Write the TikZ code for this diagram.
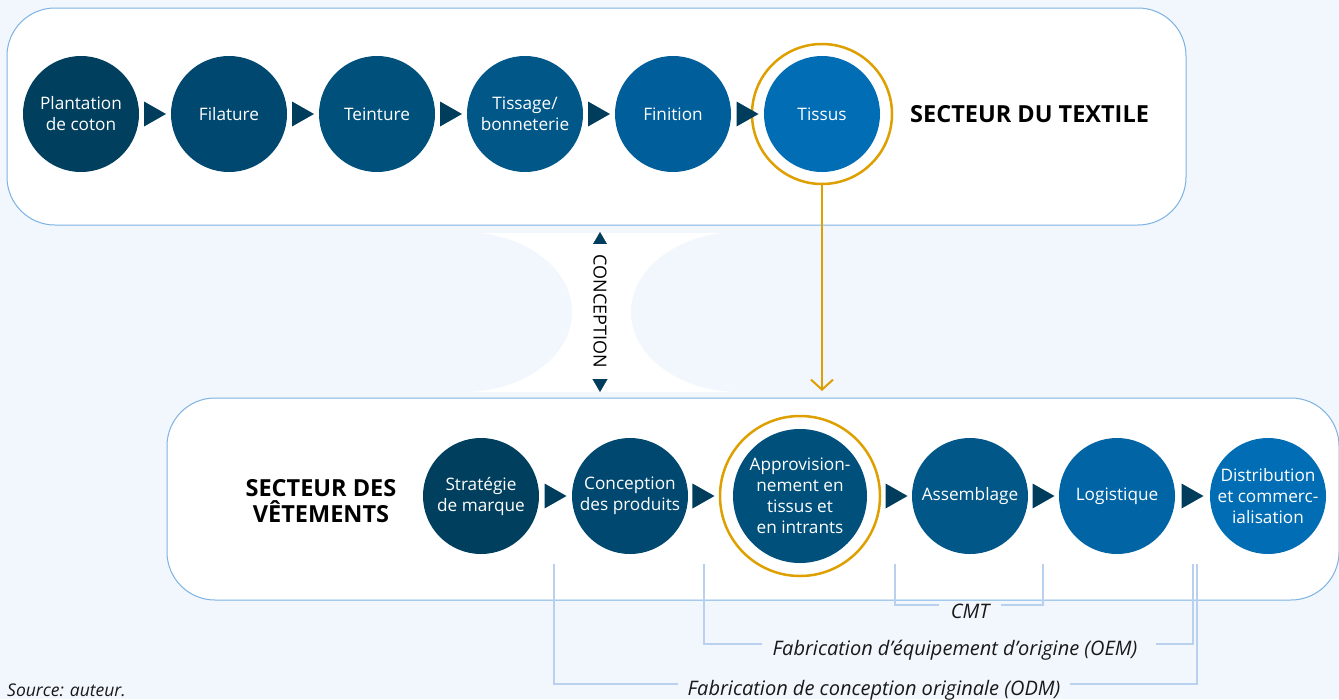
\documentclass[tikz,border=0pt]{standalone}
\usepackage{fontspec}
\setmainfont{Open Sans}
\usetikzlibrary{arrows.meta,calc}
\definecolor{bgc}{HTML}{F2F6FD}
\definecolor{boxline}{HTML}{7DB3E3}
\definecolor{trif}{HTML}{003D5C}
\definecolor{gold}{HTML}{DDA000}
\definecolor{brk}{HTML}{B9D1EF}
\definecolor{ca}{HTML}{003F5E}
\definecolor{cb}{HTML}{00486F}
\definecolor{cc}{HTML}{00507C}
\definecolor{cd}{HTML}{005788}
\definecolor{ce}{HTML}{005F9A}
\definecolor{cf}{HTML}{006DB5}
\definecolor{cg}{HTML}{0064A5}
\tikzset{
  sector/.style={draw=boxline, line width=1pt, fill=white, rounded corners=48pt},
  stage/.style={circle, minimum size=116pt, inner sep=0pt, text=white,
    font=\fontsize{17.2}{21}\selectfont, align=center},
  ring/.style={circle, draw=gold, line width=2.5pt, inner sep=0pt, fill=white},
  title/.style={font=\fontsize{23.5}{26}\selectfont\bfseries, align=center, text=black},
  lab/.style={font=\fontsize{20}{22}\selectfont\itshape, anchor=base, inner sep=0pt, text=black!90},
  bracketline/.style={draw=brk, line width=2pt},
}
\newcommand{\tri}[1]{\fill[trif] ($(#1)+(-11,12.5)$) -- ($(#1)+(11,0)$) -- ($(#1)+(-11,-12.5)$) -- cycle;}
\begin{document}
\begin{tikzpicture}[x=1pt,y=-1pt]
\useasboundingbox (0,0) rectangle (1339,699);
\fill[bgc] (0,0) rectangle (1339,699);
% hourglass between sectors
\fill[white] (463,233) rectangle (740,392);
\fill[bgc] (463,312) ellipse [x radius=109, y radius=80];
\fill[bgc] (740,312) ellipse [x radius=109, y radius=80];
% sector boxes
\draw[sector] (7,8) rectangle (1186,225);
\draw[sector] (167,398) rectangle (1339,600);
% top row
\node[ring, minimum size=140pt] (tissusring) at (822,114) {};
\node[stage, fill=ca] (plant) at (81,114) {Plantation\\de coton};
\node[stage, fill=cb] (fila) at (229,114) {Filature};
\node[stage, fill=cc] (tein) at (377,114) {Teinture};
\node[stage, fill=cd] (tiss) at (525,114) {Tissage/\\bonneterie};
\node[stage, fill=ce] (fini) at (673,114) {Finition};
\node[stage, fill=cf] (tissus) at (822,114) {Tissus};
\node[title, anchor=west, inner sep=0pt] (ttex) at (910,114) {SECTEUR DU TEXTILE};
\tri{$(plant.east)!0.5!(fila.west)$}
\tri{$(fila.east)!0.5!(tein.west)$}
\tri{$(tein.east)!0.5!(tiss.west)$}
\tri{$(tiss.east)!0.5!(fini.west)$}
\tri{$(fini.east)!0.5!(tissus.west)$}
% bottom row
\node[ring, minimum size=160pt] (appring) at (800,496) {};
\node[stage, fill=ca] (strat) at (481,496) {Stratégie\\de marque};
\node[stage, fill=cb] (conc) at (630,496) {Conception\\des produits};
\node[stage, fill=cc, minimum size=134pt] (appro) at (800,496) {Approvision-\\nement en\\tissus et\\en intrants};
\node[stage, fill=cd] (assem) at (970,496) {Assemblage};
\node[stage, fill=cg] (logi) at (1117,496) {Logistique};
\node[stage, fill=cf] (distr) at (1268,496) {Distribution\\et commerc-\\ialisation};
\node[title] (tvet) at (321,501) {SECTEUR DES\\VÊTEMENTS};
\tri{$(strat.east)!0.5!(conc.west)$}
\tri{$(conc.east)!0.5!(appring.west)$}
\tri{$(appring.east)!0.5!(assem.west)$}
\tri{$(assem.east)!0.5!(logi.west)$}
\tri{$(logi.east)!0.5!(distr.west)$}
% gold arrow
\coordinate (goldend) at (822,391);
\draw[gold, line width=2pt, -{Straight Barb[length=10pt,width=22pt]}] (tissusring.south) -- (goldend);
% conception arrow
\coordinate (ctop) at (600,232);
\coordinate (cbot) at (600,392);
\draw[trif, line width=0.4pt, {Triangle[length=13pt,width=15pt]}-{Triangle[length=13pt,width=15pt]}] (ctop) -- (cbot);
\node[fill=white, rotate=-90, minimum width=135pt, inner ysep=2pt, font=\fontsize{18}{20}\selectfont] (conclab) at (600,311.5) {CONCEPTION};
% brackets
\node[lab] (cmt) at (970,618) {CMT};
\node[lab] (oem) at (955,655) {Fabrication d'équipement d'origine (OEM)};
\node[lab] (odm) at (874,695) {Fabrication de conception originale (ODM)};
\draw[bracketline] ($(cmt.west)+(-12,0)$) ++(0,-6) -| (895,564);
\draw[bracketline] ($(cmt.east)+(12,0)$) ++(0,-6) -| (1043,564);
\draw[bracketline] ($(oem.west)+(-10,0)$) ++(0,-6) -| (704,564);
\draw[bracketline] ($(oem.east)+(18,0)$) ++(0,-6) -| (1193,564);
\draw[bracketline] ($(odm.west)+(-9,0)$) ++(0,-6) -| (554,564);
\draw[bracketline] ($(odm.east)+(9,0)$) ++(0,-6) -| (1197,564);
\node[lab, anchor=base west, font=\fontsize{17.5}{18}\selectfont\itshape] (src) at (7,696) {Source: auteur.};
\end{tikzpicture}
\end{document}
